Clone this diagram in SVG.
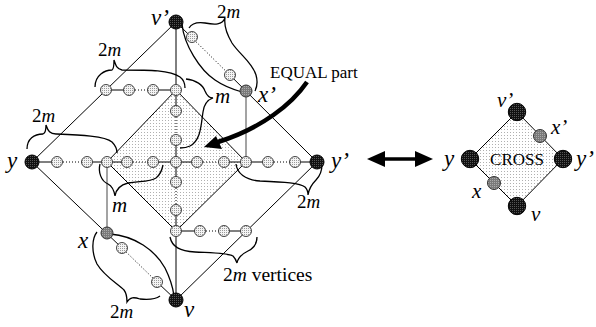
<svg xmlns="http://www.w3.org/2000/svg" width="596" height="327" viewBox="0 0 596 327">
<defs>
<pattern id="shade" width="3" height="3" patternUnits="userSpaceOnUse"><rect width="3" height="3" fill="#fff"/><rect width="1" height="1" fill="#b0b0b0"/></pattern>
<pattern id="ndots" width="2" height="2" patternUnits="userSpaceOnUse"><rect width="2" height="2" fill="#f4f4f4"/><rect width="1" height="1" fill="#9a9a9a"/></pattern>
<pattern id="bdots" width="2" height="2" patternUnits="userSpaceOnUse"><rect width="2" height="2" fill="#111"/><rect width="1" height="1" fill="#555"/></pattern>
<pattern id="gdots" width="2" height="2" patternUnits="userSpaceOnUse"><rect width="2" height="2" fill="#7a7a7a"/><rect width="1" height="1" fill="#aaa"/></pattern>
<style>
.e{fill:none;stroke:#000;stroke-width:1}
.d{fill:none;stroke:#000;stroke-width:1;stroke-dasharray:1 2}
.g{fill:none;stroke:#666;stroke-width:1.2}
.br{fill:none;stroke:#000;stroke-width:1.3}
.n{fill:url(#ndots);stroke:#333;stroke-width:0.9}
.b{fill:url(#bdots);stroke:#000;stroke-width:1}
.gr{fill:url(#gdots);stroke:#333;stroke-width:1}
text{font-family:'Liberation Serif','Times New Roman','DejaVu Serif',serif;fill:#000}
.lab{font-style:italic}
</style>
</defs>
<rect width="596" height="327" fill="#fff"/>

<polygon points="176,90 246,162 176,231 107,162" fill="url(#shade)" stroke="#000" stroke-width="1"/>
<polygon points="517,112 563,159 517,206 470,159" fill="url(#shade)" stroke="#000" stroke-width="1"/>

<g id="connectors">
<line class="e" x1="32" y1="162" x2="176" y2="22"/>
<line class="e" x1="176" y1="22" x2="192" y2="37.8"/>
<line class="d" x1="192" y1="37.8" x2="230" y2="75.2"/>
<line class="e" x1="230" y1="75.2" x2="317" y2="162"/>
<line class="e" x1="317" y1="162" x2="176" y2="300"/>
<line class="e" x1="32" y1="162" x2="122" y2="248"/>
<line class="d" x1="122" y1="248" x2="157" y2="282"/>
<line class="e" x1="157" y1="282" x2="176" y2="300"/>
<line class="e" x1="32" y1="162" x2="57" y2="162"/>
<line class="d" x1="57" y1="162" x2="87" y2="162"/>
<line class="e" x1="87" y1="162" x2="127" y2="162"/>
<line class="d" x1="127" y1="162" x2="153" y2="162"/>
<line class="e" x1="153" y1="162" x2="197" y2="162"/>
<line class="d" x1="197" y1="162" x2="224" y2="162"/>
<line class="e" x1="224" y1="162" x2="268" y2="162"/>
<line class="d" x1="268" y1="162" x2="295" y2="162"/>
<line class="e" x1="295" y1="162" x2="317" y2="162"/>
<line class="e" x1="176" y1="22" x2="176" y2="111"/>
<line class="d" x1="176" y1="111" x2="176" y2="140"/>
<line class="e" x1="176" y1="140" x2="176" y2="182"/>
<line class="d" x1="176" y1="182" x2="176" y2="210"/>
<line class="e" x1="176" y1="210" x2="176" y2="300"/>
<line class="e" x1="106" y1="90" x2="129" y2="90"/>
<line class="d" x1="129" y1="90" x2="153" y2="90"/>
<line class="e" x1="153" y1="90" x2="176" y2="90"/>
<line class="e" x1="176" y1="231" x2="200" y2="231"/>
<line class="d" x1="200" y1="231" x2="224" y2="231"/>
<line class="e" x1="224" y1="231" x2="246" y2="231"/>
<line class="g" x1="246" y1="91" x2="246" y2="162"/>
<line class="g" x1="107" y1="233" x2="107" y2="162"/>
<path class="br" d="M95,87 C95,75 105,70 112,70 C114,69 114,63 114,60 C116,66 117,69 122,70 C150,70 170,70 180,77 C184,80 185,84 185,88"/>
<path class="br" d="M27,149 C27,139 34,134 43,134 C46,133 46,128 46,125 C48,131 50,134 56,134 C80,135 105,136 112,142 C115,145 117,149 117,153"/>
<path class="br" d="M189,28 C192,23 198,22 205,23 C215,25 222,25 225,18 C224,25 226,33 232,43 C240,55 252,62 256,75 C258,82 257,87 255,91"/>
<path class="br" d="M182,24 C184,45 200,70 215,80 C225,87 235,90 242,92"/>
<path class="br" d="M97,232 C92,238 91,252 97,264 C104,276 118,284 124,290 C127,294 127,299 127,302 C130,297 134,297 140,299 C150,300 156,299 160,296"/>
<path class="br" d="M110,234 C135,236 155,250 165,268 C170,278 173,288 174,296"/>
<path class="br" d="M186,79 C196,80 203,85 205,91 C207,96 210,98 213,98 C207,100 204,104 203,112 C201,125 201,140 190,146 C186,148 183,148 180,148"/>
<path class="br" d="M100,164 C98,172 101,181 108,184 C112,186 114,190 115,196 C116,189 120,185 128,183 C140,181 150,182 156,178 C160,175 162,170 163,165"/>
<path class="br" d="M236,164 C237,173 245,180 260,181 C285,182 300,183 305,187 C307,189 308,192 308,195 C309,188 312,184 316,180 C320,176 322,170 322,164"/>
<path class="br" d="M170,237 C172,247 180,251 195,252 C215,253 228,253 233,256 C235,258 236,260 237,263 C238,257 242,254 248,251 C254,248 257,243 257,237"/>
<path d="M307,82 C292,104 262,128 218,142" fill="none" stroke="#000" stroke-width="4.5"/>
<polygon points="204,147 216,136 222,149" fill="#000"/>
<line x1="380" y1="159" x2="420" y2="159" stroke="#000" stroke-width="3.5"/>
<polygon points="367,159 385,151 385,167" fill="#000"/>
<polygon points="433,159 415,151 415,167" fill="#000"/>
</g>

<g id="nodes-row">
<circle class="n" cx="57" cy="162" r="5.5"/>
<circle class="n" cx="87" cy="162" r="5.5"/>
<circle class="n" cx="107" cy="162" r="5.5"/>
<circle class="n" cx="127" cy="162" r="5.5"/>
<circle class="n" cx="153" cy="162" r="5.5"/>
<circle class="n" cx="176" cy="162" r="5.5"/>
<circle class="n" cx="197" cy="162" r="5.5"/>
<circle class="n" cx="224" cy="162" r="5.5"/>
<circle class="n" cx="246" cy="162" r="5.5"/>
<circle class="n" cx="268" cy="162" r="5.5"/>
<circle class="n" cx="295" cy="162" r="5.5"/>
</g>
<g id="nodes-column">
<circle class="n" cx="176" cy="90" r="5.5"/>
<circle class="n" cx="176" cy="111" r="5.5"/>
<circle class="n" cx="176" cy="140" r="5.5"/>
<circle class="n" cx="176" cy="182" r="5.5"/>
<circle class="n" cx="176" cy="210" r="5.5"/>
<circle class="n" cx="176" cy="231" r="5.5"/>
</g>
<g id="nodes-top-row">
<circle class="n" cx="106" cy="90" r="5.5"/>
<circle class="n" cx="129" cy="90" r="5.5"/>
<circle class="n" cx="153" cy="90" r="5.5"/>
</g>
<g id="nodes-bottom-row">
<circle class="n" cx="200" cy="231" r="5.5"/>
<circle class="n" cx="224" cy="231" r="5.5"/>
<circle class="n" cx="246" cy="231" r="5.5"/>
</g>
<g id="nodes-edges">
<circle class="n" cx="192" cy="37" r="5.5"/>
<circle class="n" cx="230" cy="75" r="5.5"/>
<circle class="n" cx="122" cy="248" r="5.5"/>
<circle class="n" cx="157" cy="282" r="5.5"/>
</g>
<g id="node-y"><circle class="b" cx="32" cy="162" r="7"/><text class="lab" x="7" y="168" font-size="23">y</text></g>
<g id="node-y2"><circle class="b" cx="317" cy="162" r="7"/><text class="lab" x="331" y="168" font-size="23">y’</text></g>
<g id="node-v2"><circle class="b" cx="176" cy="22" r="7"/><text class="lab" x="151" y="25" font-size="23">v’</text></g>
<g id="node-v"><circle class="b" cx="176" cy="300" r="7"/><text class="lab" x="184" y="317" font-size="23">v</text></g>
<g id="node-x2"><circle class="gr" cx="246" cy="91" r="6"/><text class="lab" x="258" y="102" font-size="23">x’</text></g>
<g id="node-x"><circle class="gr" cx="107" cy="233" r="6"/><text class="lab" x="78" y="248" font-size="23">x</text></g>

<g id="labels">
<text x="98" y="56" font-size="19">2<tspan font-style="italic">m</tspan></text>
<text x="32" y="122" font-size="19">2<tspan font-style="italic">m</tspan></text>
<text x="217" y="18" font-size="19">2<tspan font-style="italic">m</tspan></text>
<text x="110" y="318" font-size="19">2<tspan font-style="italic">m</tspan></text>
<text x="297" y="208" font-size="19">2<tspan font-style="italic">m</tspan></text>
<text x="223" y="281" font-size="19.5">2<tspan font-style="italic">m</tspan> vertices</text>
<text class="lab" x="215" y="103" font-size="21">m</text>
<text class="lab" x="112" y="212" font-size="21">m</text>
<text x="270" y="78" font-size="17">EQUAL part</text>
</g>

<g id="cross">
<text x="517" y="165" font-size="17" text-anchor="middle">CROSS</text>
<circle class="b" cx="517" cy="112" r="8.7"/>
<circle class="b" cx="563" cy="159" r="8.7"/>
<circle class="b" cx="517" cy="206" r="8.7"/>
<circle class="b" cx="470" cy="159" r="8.7"/>
<circle class="gr" cx="540" cy="136" r="6.5"/>
<circle class="gr" cx="494" cy="183" r="6.5"/>
<text class="lab" x="497" y="107" font-size="21">v’</text>
<text class="lab" x="551" y="134" font-size="21">x’</text>
<text class="lab" x="444" y="166" font-size="23">y</text>
<text class="lab" x="576" y="166" font-size="23">y’</text>
<text class="lab" x="472" y="198" font-size="21">x</text>
<text class="lab" x="531" y="221" font-size="21">v</text>
</g>
</svg>
